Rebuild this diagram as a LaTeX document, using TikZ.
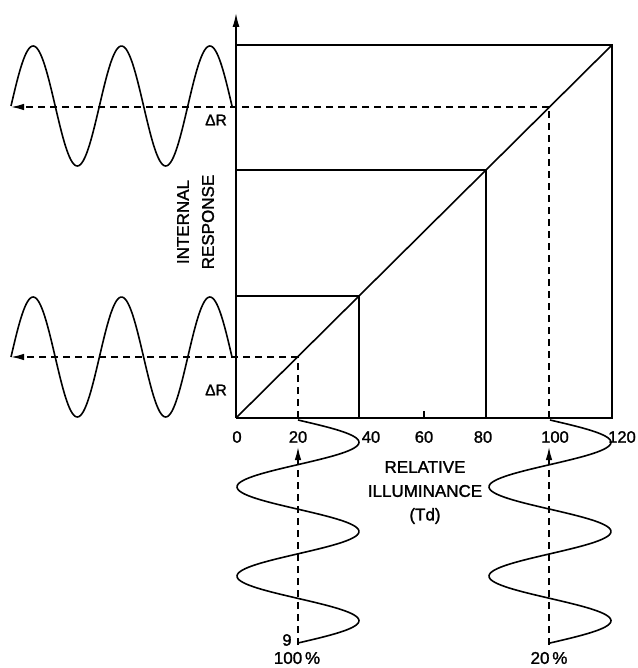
\documentclass[tikz,border=0pt]{standalone}
\usepackage{fontspec}
\setmainfont[FakeBold=1.5]{Liberation Sans}
\usetikzlibrary{arrows.meta}
\begin{document}
\begin{tikzpicture}[x=1pt,y=-1pt,
  axis/.style={line width=1.6pt},
  guide/.style={line width=1.4pt, dash pattern=on 7pt off 5pt},
  wave/.style={line width=1.6pt, line join=round},
  tip/.style={-{Latex[length=13pt,width=6.5pt]}},
  lbl/.style={font=\fontsize{17}{20}\selectfont, inner sep=0pt},
  num/.style={font=\fontsize{16.5}{19}\selectfont, inner sep=0pt},
  small/.style={font=\fontsize{15.5}{18}\selectfont, inner sep=0pt},
]
\useasboundingbox (0,0) rectangle (637,668);
% key points
\coordinate (O) at (236,418);
\coordinate (Ytop) at (236,13);
\coordinate (TL) at (236,45);
\coordinate (TR) at (612,45);
\coordinate (BR) at (612,418);
\coordinate (B40) at (359,418);
\coordinate (T40) at (359,296);
\coordinate (L40) at (236,296);
\coordinate (B80) at (486,418);
\coordinate (T80) at (486,170);
\coordinate (L80) at (236,170);
\coordinate (B60) at (424,418);
\coordinate (T60) at (424,411);
\coordinate (P20) at (298,357);
\coordinate (X20) at (298,418);
\coordinate (L20) at (11,357);
\coordinate (S20) at (298,645);
\coordinate (A20) at (298,447);
\coordinate (P100) at (549,107);
\coordinate (X100) at (549,418);
\coordinate (L100) at (11,107);
\coordinate (S100) at (549,645);
\coordinate (A100) at (549,447);
% axes and boxes
\draw[axis,-{Latex[length=14pt,width=7pt]}] (O) -- (Ytop);
\draw[axis] (O) -- (BR) -- (TR) -- (TL);
\draw[axis] (O) -- (TR);
\draw[axis] (L40) -- (T40) -- (B40);
\draw[axis] (L80) -- (T80) -- (B80);
\draw[axis] (B60) -- (T60);
% dashed guides
\draw[guide] (X20) -- (P20);
\draw[guide,tip] (P20) -- (L20);
\draw[guide,tip] (S20) -- (A20);
\draw[guide] (X100) -- (P100);
\draw[guide,tip] (P100) -- (L100);
\draw[guide,tip] (S100) -- (A100);
% waves
\draw[wave] plot[domain=11:232, samples=160, smooth] (\x, {106-60*sin(4.0724*(\x-11))});
\draw[wave] plot[domain=11:232, samples=160, smooth] (\x, {357-60*sin(4.0724*(\x-11))});
\draw[wave] plot[domain=420:643, samples=160, smooth] ({298+61*sin(4.0359*(\x-420))}, \x);
\draw[wave] plot[domain=420:643, samples=160, smooth] ({550+61*sin(4.0359*(\x-420))}, \x);
% labels
\node[num] (n0) at (237,437) {0};
\node[num] (n20) at (298,437) {20};
\node[num] (n40) at (371,437) {40};
\node[num] (n60) at (424,437) {60};
\node[num] (n80) at (483,437) {80};
\node[num] (n100) at (555,437) {100};
\node[num] (n120) at (622,437) {120};
\node[small] (dr1) at (216,120) {ΔR};
\node[small] (dr2) at (216,390) {ΔR};
\node[lbl, rotate=90] (int) at (183,222) {INTERNAL};
\node[lbl, rotate=90] (resp) at (208,222) {RESPONSE};
\node[lbl] (rel) at (425,467) {RELATIVE};
\node[lbl] (ill) at (425,491) {ILLUMINANCE};
\node[lbl] (td) at (425,516) {(Td)};
\node[num] (nine) at (287,640) {9};
\node[lbl] (pc100) at (297,658) {100\,\%};
\node[lbl] (pc20) at (549,658) {20\,\%};
\end{tikzpicture}
\end{document}
